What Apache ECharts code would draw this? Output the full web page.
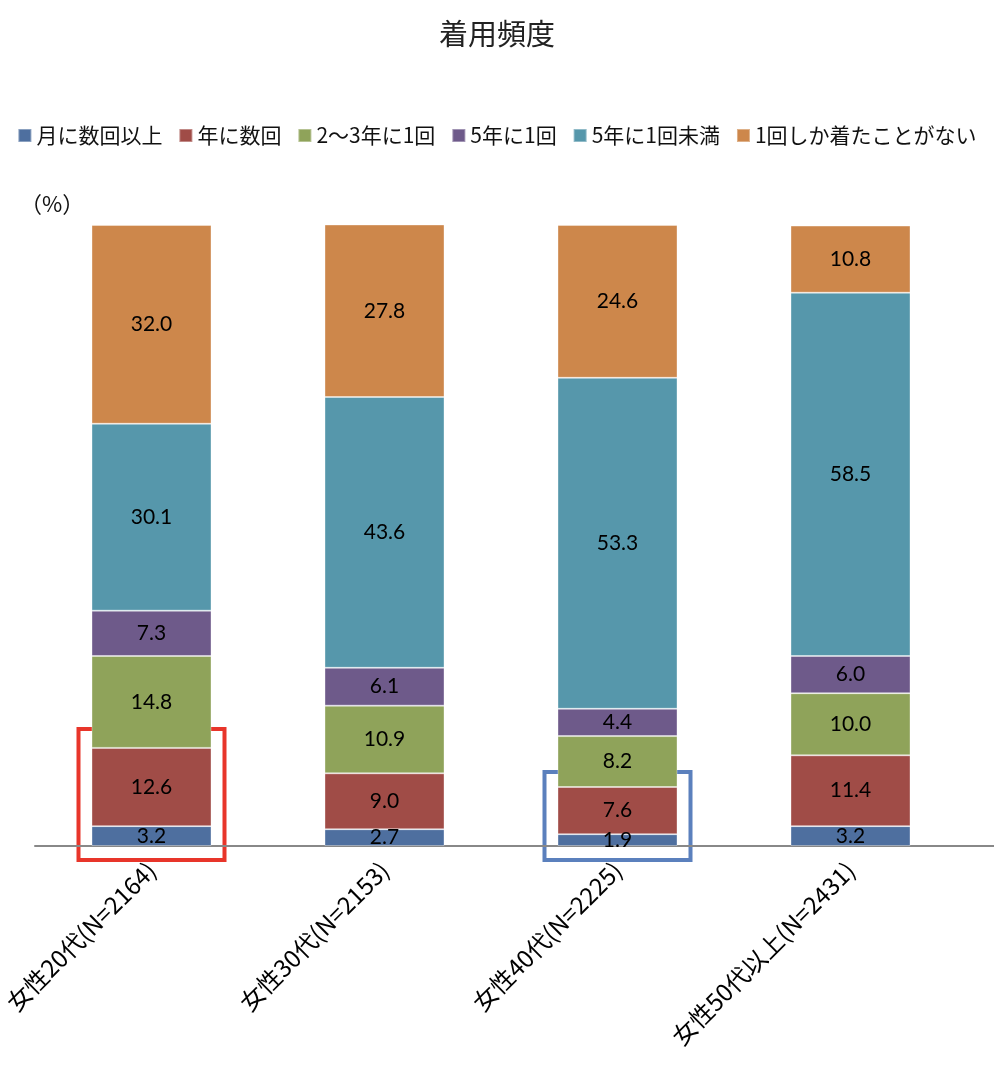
<!DOCTYPE html>
<html><head><meta charset="utf-8">
<script src="https://cdn.jsdelivr.net/npm/echarts@6/dist/echarts.min.js"></script>
<style>html,body{margin:0;padding:0;background:#fff}#c{width:994px;height:1076px}</style>
</head><body><div id="c"></div>
<script>
const categories = ['女性20代(N=2164)', '女性30代(N=2153)', '女性40代(N=2225)', '女性50代以上(N=2431)'];
const seriesNames = ['月に数回以上', '年に数回', '2～3年に1回', '5年に1回', '5年に1回未満', '1回しか着たことがない'];
const monthly = [3.2, 2.7, 1.9, 3.2];
const yearly = [12.6, 9.0, 7.6, 11.4];
const every2to3 = [14.8, 10.9, 8.2, 10.0];
const every5 = [7.3, 6.1, 4.4, 6.0];
const lessThan5 = [30.1, 43.6, 53.3, 58.5];
const onlyOnce = [32.0, 27.8, 24.6, 10.8];
const colors = ['#4e6f9f', '#a04c47', '#8fa35a', '#6e5a8a', '#5697ab', '#cd874b'];
const values = [monthly, yearly, every2to3, every5, lessThan5, onlyOnce];

const chart = echarts.init(document.getElementById('c'));
const numFont = 'Lato, "Noto Sans", sans-serif';
const jpFont = '"Noto Sans CJK JP", sans-serif';
chart.setOption({
  animation: false,
  title: { text: '着用頻度', left: 'center', top: 14, textStyle: { fontFamily: jpFont, fontSize: 29, fontWeight: 'normal', color: '#222' } },
  legend: {
    top: 120, left: 'center', itemWidth: 13, itemHeight: 13, itemGap: 16, icon: 'rect',
    textStyle: { fontFamily: jpFont, fontSize: 21, color: '#111' },
    data: seriesNames
  },
  grid: { left: 35, right: 27, top: 225, bottom: 230, containLabel: false },
  xAxis: {
    type: 'category', data: categories,
    axisLine: { lineStyle: { color: '#888', width: 2 } },
    axisTick: { show: false },
    axisLabel: { rotate: 45, margin: 20, fontFamily: jpFont, fontSize: 24, color: '#000' }
  },
  yAxis: { type: 'value', min: 0, max: 100, show: false },
  series: values.map((v, i) => ({
    name: seriesNames[i], type: 'bar', stack: 'all', data: v, barWidth: 120,
    itemStyle: { color: colors[i], borderColor: 'rgba(255,255,255,0.35)', borderWidth: 1 },
    label: { show: true, position: 'inside', formatter: p => p.value.toFixed(1), fontFamily: numFont, fontSize: 21, color: '#000' }
  }))
});

// annotation rectangles and extras placed through the chart's scales
const p0a = chart.convertToPixel({ gridIndex: 0 }, [0, monthly[0] + yearly[0]]);
const p0b = chart.convertToPixel({ gridIndex: 0 }, [0, 0]);
const p2a = chart.convertToPixel({ gridIndex: 0 }, [2, monthly[2] + yearly[2]]);
const p2b = chart.convertToPixel({ gridIndex: 0 }, [2, 0]);
chart.setOption({
  graphic: [
    { type: 'text', left: 20, top: 193, style: { text: '（%）', fontFamily: jpFont, fontSize: 22, fill: '#111' } },
    { type: 'line', shape: { x1: 960, y1: p0b[1], x2: 995, y2: p0b[1] }, style: { stroke: '#888', lineWidth: 2 } },
    { type: 'rect', shape: { x: p0a[0] - 73, y: p0a[1] - 19, width: 146, height: p0b[1] - p0a[1] + 33 }, style: { fill: 'none', stroke: '#e8352a', lineWidth: 4 } },
    { type: 'rect', shape: { x: p2a[0] - 73, y: p2a[1] - 15, width: 146, height: p2b[1] - p2a[1] + 29 }, style: { fill: 'none', stroke: '#5b80bd', lineWidth: 4 } }
  ]
});
</script></body></html>
